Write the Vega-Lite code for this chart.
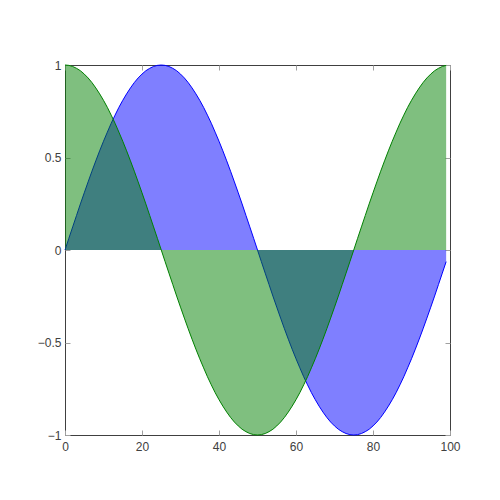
{
  "$schema": "https://vega.github.io/schema/vega-lite/v6.json",
  "width": 385,
  "height": 370,
  "autosize": "none",
  "padding": {"left": 65, "top": 65, "right": 50, "bottom": 65},
  "background": "white",
  "view": {"stroke": "#404040", "strokeWidth": 1},
  "config": {
    "axis": {
      "labelFont": "Liberation Sans",
      "labelFontSize": 12,
      "labelColor": "#404040",
      "tickColor": "#a0a0a0",
      "tickSize": -5,
      "grid": false,
      "domain": false,
      "title": null
    }
  },
  "data": {"values": [
    {"x":0,"s":0,"c":1},{"x":1,"s":0.063,"c":0.998},{"x":2,"s":0.125,"c":0.992},{"x":3,"s":0.187,"c":0.982},{"x":4,"s":0.249,"c":0.969},
    {"x":5,"s":0.309,"c":0.951},{"x":6,"s":0.368,"c":0.930},{"x":7,"s":0.426,"c":0.905},{"x":8,"s":0.482,"c":0.876},{"x":9,"s":0.536,"c":0.844},
    {"x":10,"s":0.588,"c":0.809},{"x":11,"s":0.637,"c":0.771},{"x":12,"s":0.685,"c":0.729},{"x":13,"s":0.729,"c":0.685},{"x":14,"s":0.771,"c":0.637},
    {"x":15,"s":0.809,"c":0.588},{"x":16,"s":0.844,"c":0.536},{"x":17,"s":0.876,"c":0.482},{"x":18,"s":0.905,"c":0.426},{"x":19,"s":0.930,"c":0.368},
    {"x":20,"s":0.951,"c":0.309},{"x":21,"s":0.969,"c":0.249},{"x":22,"s":0.982,"c":0.187},{"x":23,"s":0.992,"c":0.125},{"x":24,"s":0.998,"c":0.063},
    {"x":25,"s":1,"c":0},{"x":26,"s":0.998,"c":-0.063},{"x":27,"s":0.992,"c":-0.125},{"x":28,"s":0.982,"c":-0.187},{"x":29,"s":0.969,"c":-0.249},
    {"x":30,"s":0.951,"c":-0.309},{"x":31,"s":0.930,"c":-0.368},{"x":32,"s":0.905,"c":-0.426},{"x":33,"s":0.876,"c":-0.482},{"x":34,"s":0.844,"c":-0.536},
    {"x":35,"s":0.809,"c":-0.588},{"x":36,"s":0.771,"c":-0.637},{"x":37,"s":0.729,"c":-0.685},{"x":38,"s":0.685,"c":-0.729},{"x":39,"s":0.637,"c":-0.771},
    {"x":40,"s":0.588,"c":-0.809},{"x":41,"s":0.536,"c":-0.844},{"x":42,"s":0.482,"c":-0.876},{"x":43,"s":0.426,"c":-0.905},{"x":44,"s":0.368,"c":-0.930},
    {"x":45,"s":0.309,"c":-0.951},{"x":46,"s":0.249,"c":-0.969},{"x":47,"s":0.187,"c":-0.982},{"x":48,"s":0.125,"c":-0.992},{"x":49,"s":0.063,"c":-0.998},
    {"x":50,"s":0,"c":-1},{"x":51,"s":-0.063,"c":-0.998},{"x":52,"s":-0.125,"c":-0.992},{"x":53,"s":-0.187,"c":-0.982},{"x":54,"s":-0.249,"c":-0.969},
    {"x":55,"s":-0.309,"c":-0.951},{"x":56,"s":-0.368,"c":-0.930},{"x":57,"s":-0.426,"c":-0.905},{"x":58,"s":-0.482,"c":-0.876},{"x":59,"s":-0.536,"c":-0.844},
    {"x":60,"s":-0.588,"c":-0.809},{"x":61,"s":-0.637,"c":-0.771},{"x":62,"s":-0.685,"c":-0.729},{"x":63,"s":-0.729,"c":-0.685},{"x":64,"s":-0.771,"c":-0.637},
    {"x":65,"s":-0.809,"c":-0.588},{"x":66,"s":-0.844,"c":-0.536},{"x":67,"s":-0.876,"c":-0.482},{"x":68,"s":-0.905,"c":-0.426},{"x":69,"s":-0.930,"c":-0.368},
    {"x":70,"s":-0.951,"c":-0.309},{"x":71,"s":-0.969,"c":-0.249},{"x":72,"s":-0.982,"c":-0.187},{"x":73,"s":-0.992,"c":-0.125},{"x":74,"s":-0.998,"c":-0.063},
    {"x":75,"s":-1,"c":0},{"x":76,"s":-0.998,"c":0.063},{"x":77,"s":-0.992,"c":0.125},{"x":78,"s":-0.982,"c":0.187},{"x":79,"s":-0.969,"c":0.249},
    {"x":80,"s":-0.951,"c":0.309},{"x":81,"s":-0.930,"c":0.368},{"x":82,"s":-0.905,"c":0.426},{"x":83,"s":-0.876,"c":0.482},{"x":84,"s":-0.844,"c":0.536},
    {"x":85,"s":-0.809,"c":0.588},{"x":86,"s":-0.771,"c":0.637},{"x":87,"s":-0.729,"c":0.685},{"x":88,"s":-0.685,"c":0.729},{"x":89,"s":-0.637,"c":0.771},
    {"x":90,"s":-0.588,"c":0.809},{"x":91,"s":-0.536,"c":0.844},{"x":92,"s":-0.482,"c":0.876},{"x":93,"s":-0.426,"c":0.905},{"x":94,"s":-0.368,"c":0.930},
    {"x":95,"s":-0.309,"c":0.951},{"x":96,"s":-0.249,"c":0.969},{"x":97,"s":-0.187,"c":0.982},{"x":98,"s":-0.125,"c":0.992},{"x":99,"s":-0.063,"c":0.998}
  ]},
  "resolve": {"axis": {"x": "independent", "y": "independent"}},
  "layer": [
    {
      "mark": {"type": "area", "fill": "#0000ff", "fillOpacity": 0.5, "line": {"color": "#0000ff", "strokeWidth": 1}},
      "encoding": {
        "x": {"field": "x", "type": "quantitative", "scale": {"domain": [0, 100], "nice": false, "zero": false},
              "axis": {"orient": "bottom", "values": [0, 20, 40, 60, 80, 100], "format": "d", "labelPadding": 11, "labelFlush": false}},
        "y": {"field": "s", "type": "quantitative", "scale": {"domain": [-1, 1], "nice": false},
              "axis": {"orient": "left", "values": [-1, -0.5, 0, 0.5, 1], "format": "~g", "labelPadding": 9, "labelFlush": false}}
      }
    },
    {
      "mark": {"type": "area", "fill": "#008000", "fillOpacity": 0.5, "line": {"color": "#008000", "strokeWidth": 1}},
      "encoding": {
        "x": {"field": "x", "type": "quantitative", "scale": {"domain": [0, 100], "nice": false, "zero": false},
              "axis": {"orient": "top", "values": [0, 20, 40, 60, 80, 100], "labels": false}},
        "y": {"field": "c", "type": "quantitative", "scale": {"domain": [-1, 1], "nice": false},
              "axis": {"orient": "right", "values": [-1, -0.5, 0, 0.5, 1], "labels": false}}
      }
    }
  ]
}
